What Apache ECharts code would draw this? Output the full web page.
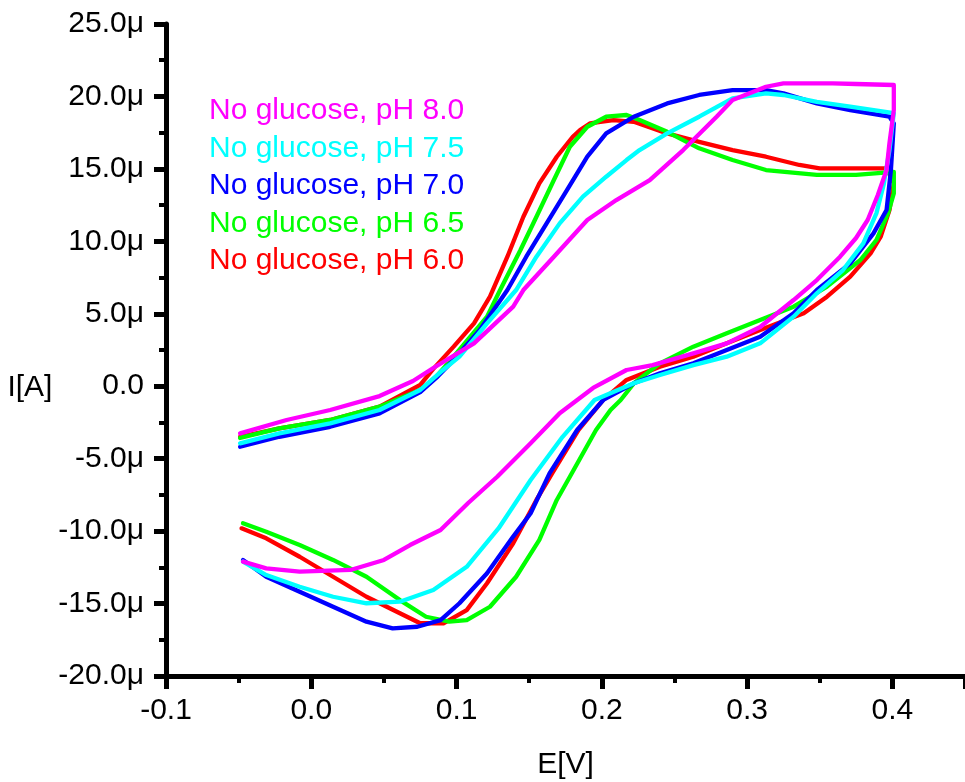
<!DOCTYPE html>
<html><head><meta charset="utf-8">
<script src="https://cdn.jsdelivr.net/npm/echarts@6/dist/echarts.min.js"></script>
<style>html,body{margin:0;padding:0;background:#fff}#c{width:965px;height:782px}</style>
</head><body><div id="c"></div>
<script>
// Tick values
const xMajorTicks = [-0.1, 0.0, 0.1, 0.2, 0.3, 0.4];
const yTicks = [-20, -15, -10, -5, 0, 5, 10, 15, 20, 25];

const seriesNames = ['No glucose, pH 8.0', 'No glucose, pH 7.5', 'No glucose, pH 7.0', 'No glucose, pH 6.5', 'No glucose, pH 6.0'];
const seriesColors = ['#FF00FF', '#00FFFF', '#0000FF', '#00FF00', '#FF0000'];

// [E (V), I (µA)] along each scan
const pH80 = [[-0.047,-12.11],[-0.031,-12.57],[-0.008,-12.80],[0.027,-12.68],[0.050,-11.99],[0.068,-10.96],[0.089,-9.92],[0.108,-8.06],[0.128,-6.25],[0.151,-3.94],[0.171,-1.86],[0.194,-0.12],[0.217,1.12],[0.235,1.46],[0.263,2.27],[0.286,2.96],[0.309,4.09],[0.332,5.95],[0.348,7.33],[0.364,8.94],[0.375,10.23],[0.383,11.47],[0.390,13.2],[0.396,14.92],[0.398,16.78],[0.401,19.06],[0.401,20.79],
  [0.375,20.86],[0.359,20.90],[0.325,20.90],[0.313,20.67],[0.290,19.75],[0.279,18.60],[0.256,16.30],[0.233,14.23],[0.210,12.85],[0.190,11.47],[0.167,8.94],[0.146,6.64],[0.139,5.49],[0.112,2.96],[0.084,1.26],[0.070,0.36],[0.047,-0.68],[0.013,-1.64],[-0.017,-2.33],[-0.049,-3.25]];
const pH75 = [[-0.047,-12.11],[-0.031,-13.03],[-0.008,-13.84],[0.015,-14.53],[0.038,-14.98],[0.061,-14.87],[0.084,-14.07],[0.107,-12.46],[0.129,-9.8],[0.151,-6.47],[0.173,-3.49],[0.195,-0.95],[0.222,0.20],[0.240,0.77],[0.263,1.46],[0.286,2.04],[0.309,2.96],[0.332,4.80],[0.348,6.41],[0.366,8.02],[0.380,9.86],[0.389,11.93],[0.394,13.9],[0.398,16.3],[0.401,18.85],
  [0.371,19.29],[0.348,19.63],[0.325,20.10],[0.313,20.21],[0.290,19.87],[0.267,18.60],[0.245,17.45],[0.226,16.30],[0.217,15.61],[0.203,14.46],[0.187,13.08],[0.171,11.24],[0.155,8.94],[0.141,6.64],[0.121,4.34],[0.102,2.04],[0.089,0.98],[0.075,-0.26],[0.047,-1.64],[0.013,-2.56],[-0.022,-3.25],[-0.049,-3.94]];
const pH70 = [[-0.047,-11.99],[-0.031,-13.15],[-0.008,-14.19],[0.015,-15.22],[0.038,-16.25],[0.056,-16.71],[0.073,-16.60],[0.089,-16.14],[0.102,-14.98],[0.121,-12.91],[0.139,-10.38],[0.151,-8.77],[0.164,-6.01],[0.183,-3.02],[0.201,-0.95],[0.222,0.20],[0.240,0.89],[0.263,1.58],[0.286,2.50],[0.309,3.42],[0.332,5.03],[0.348,6.64],[0.371,8.48],[0.387,10.55],[0.396,12.16],[0.399,14.92],[0.401,18.14],
  [0.398,18.60],[0.371,19.06],[0.348,19.52],[0.325,20.21],[0.313,20.44],[0.290,20.44],[0.267,20.10],[0.245,19.52],[0.222,18.60],[0.203,17.45],[0.190,15.84],[0.176,13.54],[0.162,11.24],[0.148,8.94],[0.135,6.64],[0.116,3.88],[0.098,1.81],[0.086,0.57],[0.075,-0.40],[0.047,-1.87],[0.013,-2.80],[-0.022,-3.49],[-0.049,-4.18]];
const pH65 = [[-0.047,-9.46],[-0.031,-10.04],[-0.008,-10.96],[0.015,-11.99],[0.038,-13.15],[0.061,-14.76],[0.079,-15.91],[0.095,-16.25],[0.107,-16.14],[0.123,-15.22],[0.141,-13.15],[0.157,-10.61],[0.169,-7.85],[0.178,-6.25],[0.196,-3.02],[0.206,-1.64],[0.213,-0.95],[0.222,0.20],[0.240,1.58],[0.263,2.73],[0.286,3.65],[0.309,4.57],[0.332,5.49],[0.355,6.87],[0.378,8.71],[0.389,10.09],[0.397,11.93],[0.401,13.31],[0.401,14.80],
  [0.375,14.58],[0.348,14.58],[0.313,14.92],[0.290,15.61],[0.267,16.42],[0.245,17.56],[0.226,18.37],[0.217,18.72],[0.203,18.60],[0.190,17.91],[0.178,16.53],[0.167,14.23],[0.155,11.70],[0.144,9.40],[0.130,6.64],[0.121,4.80],[0.098,2.04],[0.086,0.66],[0.075,-0.26],[0.047,-1.41],[0.013,-2.33],[-0.022,-2.91],[-0.049,-3.57]];
const pH60 = [[-0.048,-9.81],[-0.031,-10.50],[-0.008,-11.77],[0.015,-13.15],[0.038,-14.53],[0.061,-15.67],[0.075,-16.36],[0.091,-16.36],[0.107,-15.45],[0.121,-13.60],[0.139,-10.84],[0.155,-7.85],[0.166,-5.99],[0.184,-3.02],[0.201,-0.95],[0.217,0.43],[0.240,1.35],[0.263,2.04],[0.286,2.96],[0.309,3.88],[0.339,5.03],[0.355,6.18],[0.371,7.56],[0.385,9.17],[0.392,10.32],[0.398,12.16],[0.401,14.00],[0.396,15.04],
  [0.371,15.04],[0.350,15.04],[0.336,15.27],[0.313,15.84],[0.290,16.30],[0.267,16.87],[0.245,17.45],[0.222,18.25],[0.208,18.37],[0.199,18.25],[0.192,18.14],[0.185,17.68],[0.180,17.22],[0.169,15.84],[0.157,14.00],[0.146,11.70],[0.135,8.94],[0.123,6.18],[0.112,4.34],[0.098,2.73],[0.084,1.2],[0.075,0.1],[0.047,-1.41],[0.013,-2.33],[-0.022,-2.91],[-0.049,-3.50]];

const seriesData = [pH80, pH75, pH70, pH65, pH60];
const drawOrder = [4, 3, 2, 1, 0];

const FONT = '"Liberation Sans", Arial, Helvetica, sans-serif';
const chart = echarts.init(document.getElementById('c'), null, {renderer: 'canvas'});

const series = drawOrder.map(i => ({
  name: seriesNames[i],
  type: 'line',
  data: seriesData[i],
  showSymbol: false,
  symbol: 'none',
  smooth: false,
  color: seriesColors[i],
  lineStyle: {color: seriesColors[i], width: 4.3, join: 'round', cap: 'round'},
  emphasis: {disabled: true},
  animation: false
}));

chart.setOption({
  animation: false,
  backgroundColor: '#fff',
  textStyle: {fontFamily: FONT},
  grid: {left: 166, right: 0, top: 24, bottom: 106, containLabel: false, outerBoundsMode: 'none'},
  legend: {
    orient: 'vertical',
    left: 199, top: 91,
    itemWidth: 0, itemHeight: 0, itemGap: 7.5,
    selectedMode: false,
    icon: 'rect',
    data: seriesNames.map((n, i) => ({name: n, textStyle: {color: seriesColors[i]}})),
    textStyle: {fontSize: 30, fontFamily: FONT, lineHeight: 30}
  },
  xAxis: {
    type: 'value', min: -0.1, max: 0.45, interval: 0.1,
    position: 'bottom',
    name: 'E[V]', nameLocation: 'middle', nameGap: 89,
    nameTextStyle: {fontSize: 30, color: '#000', fontFamily: FONT, align: 'center', verticalAlign: 'middle'},
    axisLine: {show: true, onZero: false, lineStyle: {color: '#000', width: 5}},
    axisTick: {show: true, length: 13, lineStyle: {color: '#000', width: 5}},
    minorTick: {show: true, splitNumber: 2, length: 7, lineStyle: {color: '#000', width: 4}},
    axisLabel: {show: true, showMaxLabel: false, margin: 20, fontSize: 30, color: '#000', fontFamily: FONT,
      formatter: v => v.toFixed(1)},
    splitLine: {show: false},
    minorSplitLine: {show: false}
  },
  yAxis: {
    type: 'value', min: -20, max: 25, interval: 5,
    name: 'I[A]', nameLocation: 'middle', nameGap: 126, nameRotate: 0,
    nameTextStyle: {fontSize: 30, color: '#000', fontFamily: FONT, align: 'center', verticalAlign: 'top', lineHeight: 76},
    axisLine: {show: true, onZero: false, lineStyle: {color: '#000', width: 5}},
    axisTick: {show: true, length: 12, lineStyle: {color: '#000', width: 5}},
    minorTick: {show: true, splitNumber: 2, length: 7, lineStyle: {color: '#000', width: 4}},
    axisLabel: {margin: 22, fontSize: 30, color: '#000', fontFamily: FONT,
      formatter: v => (v === 0 ? '0.0' : v.toFixed(1) + 'μ')},
    splitLine: {show: false},
    minorSplitLine: {show: false}
  },
  series: series
});
</script></body></html>
